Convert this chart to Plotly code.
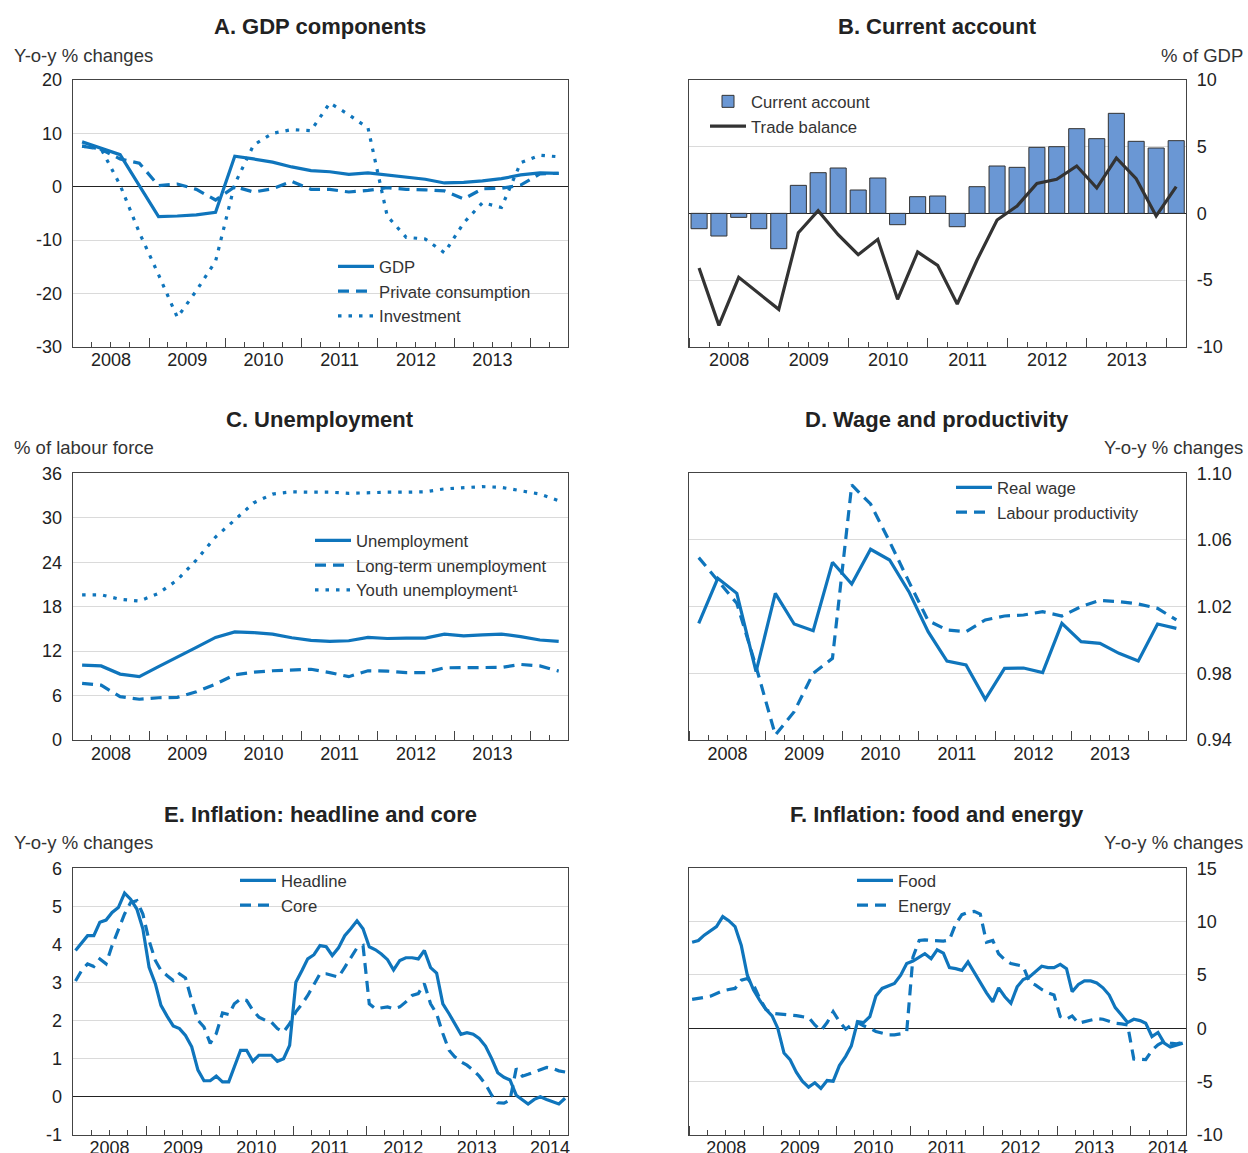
import pandas as pd
import plotly.graph_objects as go

W, H = 1248, 1153
BLUE = "#0f75bc"
BAR = "#6a97d4"
DARK = "#333333"
FONT = "Liberation Sans, Arial, sans-serif"

# ---- data ----
# A. GDP components, quarterly 2008Q1-2014Q2
gdp = [8.4, 7.2, 6.0, 0.2, -5.6, -5.5, -5.3, -4.8, 5.7, 5.2, 4.6, 3.7, 3.0,
       2.8, 2.3, 2.6, 2.2, 1.8, 1.4, 0.7, 0.8, 1.1, 1.5, 2.2, 2.6, 2.5]
priv_cons = [7.6, 7.0, 5.2, 4.4, 0.2, 0.5, -0.5, -2.5, 0.0, -1.0, -0.4, 1.0, -0.5,
             -0.5, -1.0, -0.7, -0.2, -0.5, -0.6, -0.8, -2.3, -0.4, -0.3, 0.3, 2.4, 2.5]
investment = [7.6, 7.1, 0.3, -8.6, -16.5, -24.5, -19.5, -14.0, 0.5, 7.8, 10.0, 10.7, 10.5,
              15.7, 13.5, 11.0, -5.5, -9.5, -9.8, -12.4, -6.8, -3.0, -3.9, 4.5, 5.9, 5.6]

# B. Current account, quarterly 2008Q1-2014Q1
current_account = [-1.15, -1.7, -0.3, -1.15, -2.65, 2.1, 3.05, 3.4, 1.75, 2.65, -0.85, 1.25, 1.3,
                   -1.0, 2.0, 3.55, 3.45, 4.95, 5.0, 6.35, 5.6, 7.5, 5.4, 4.9, 5.45]
trade_balance = [-4.1, -8.4, -4.8, -6.0, -7.2, -1.45, 0.2, -1.6, -3.1, -1.95, -6.45, -2.9, -3.9,
                 -6.8, -3.5, -0.5, 0.55, 2.25, 2.55, 3.55, 1.9, 4.15, 2.6, -0.2, 2.0]

# C. Unemployment, quarterly 2008Q1-2014Q2
unemployment = [10.1, 10.0, 8.9, 8.55, 9.9, 11.25, 12.5, 13.85, 14.6, 14.5, 14.3, 13.8, 13.45,
                13.3, 13.4, 13.85, 13.7, 13.75, 13.75, 14.3, 14.05, 14.2, 14.3, 13.95, 13.5, 13.3]
long_term = [7.65, 7.4, 5.85, 5.5, 5.7, 5.75, 6.5, 7.55, 8.8, 9.15, 9.35, 9.45, 9.55,
             9.1, 8.55, 9.35, 9.3, 9.1, 9.1, 9.75, 9.75, 9.75, 9.8, 10.2, 10.0, 9.3]
youth = [19.6, 19.6, 19.0, 18.75, 19.8, 21.6, 24.3, 27.4, 29.7, 32.0, 33.2, 33.5, 33.45,
         33.45, 33.3, 33.4, 33.45, 33.45, 33.5, 33.9, 34.0, 34.2, 34.1, 33.65, 33.2, 32.3]

# D. Wage and productivity, quarterly 2008Q1-2014Q2
real_wage = [1.010, 1.037, 1.028, 0.981, 1.028, 1.0096, 1.0056, 1.0466, 1.0336, 1.0544, 1.048,
             1.029, 1.005, 0.9874, 0.985, 0.9644, 0.983, 0.9832, 0.9804, 1.010, 0.999, 0.998,
             0.992, 0.9874, 1.0096, 1.007]
labour_prod = [1.0494, 1.036, 1.022, 0.984, 0.943, 0.957, 0.980, 0.989, 1.093, 1.0816, 1.059,
               1.035, 1.0116, 1.006, 1.005, 1.012, 1.0144, 1.015, 1.017, 1.0144, 1.020, 1.0238,
               1.023, 1.0216, 1.019, 1.012]

# E. Inflation: headline and core, monthly Jan 2008-Sep 2014
headline = [3.84, 4.03, 4.23, 4.23, 4.58, 4.64, 4.84, 4.97, 5.35, 5.19, 4.93, 4.41,
            3.40, 2.97, 2.40, 2.11, 1.86, 1.79, 1.61, 1.31, 0.70, 0.42, 0.42, 0.54,
            0.39, 0.39, 0.79, 1.22, 1.22, 0.93, 1.09, 1.09, 1.09, 0.93, 1.00, 1.35,
            3.01, 3.32, 3.62, 3.73, 3.97, 3.94, 3.71, 3.91, 4.23, 4.41, 4.62, 4.41,
            3.94, 3.86, 3.75, 3.60, 3.33, 3.58, 3.65, 3.65, 3.62, 3.84, 3.39, 3.25,
            2.44, 2.18, 1.92, 1.64, 1.68, 1.64, 1.53, 1.33, 1.00, 0.63, 0.51, 0.44,
            0.04, -0.07, -0.19, -0.07, 0.0, -0.07, -0.13, -0.19, -0.04]
core = [3.04, 3.32, 3.49, 3.42, 3.62, 3.49, 3.97, 4.36, 4.80, 5.10, 5.15, 4.80,
        4.10, 3.58, 3.32, 3.18, 3.05, 3.23, 3.12, 2.53, 2.01, 1.83, 1.40, 1.66,
        2.20, 2.16, 2.44, 2.57, 2.53, 2.27, 2.09, 2.01, 1.96, 1.79, 1.70, 1.92,
        2.23, 2.44, 2.66, 2.95, 3.23, 3.23, 3.18, 3.14, 3.40, 3.66, 3.91, 3.97,
        2.44, 2.31, 2.34, 2.36, 2.31, 2.36, 2.49, 2.66, 2.71, 2.97, 2.44, 2.18,
        1.66, 1.22, 1.05, 0.92, 0.83, 0.70, 0.54, 0.33, 0.04, -0.16, -0.17, -0.09,
        0.74, 0.54, 0.59, 0.65, 0.70, 0.77, 0.74, 0.68, 0.65]

# F. Inflation: food and energy, monthly Jan 2008-Sep 2014
food = [8.07, 8.23, 8.73, 9.16, 9.53, 10.47, 10.09, 9.53, 7.76, 4.97, 3.57, 2.64,
        1.77, 1.15, 0.0, -2.33, -2.95, -4.13, -4.97, -5.53, -5.12, -5.65, -4.91, -4.97,
        -3.51, -2.64, -1.65, 0.62, 0.53, 1.09, 3.01, 3.73, 3.94, 4.19, 4.97, 6.06,
        6.30, 6.68, 6.99, 6.52, 7.36, 7.05, 5.68, 5.59, 5.43, 6.21, 5.19, 4.25,
        3.32, 2.48, 3.79, 2.95, 2.33, 3.88, 4.57, 4.81, 5.28, 5.81, 5.68, 5.68,
        5.99, 5.59, 3.42, 4.10, 4.44, 4.44, 4.25, 3.79, 3.11, 1.93, 1.24, 0.53,
        0.84, 0.71, 0.47, -0.78, -0.40, -1.40, -1.77, -1.58, -1.40]
energy = [2.70, 2.76, 2.89, 3.01, 3.26, 3.51, 3.63, 3.73, 4.50, 4.66, 4.04, 2.80,
          1.77, 1.40, 1.34, 1.30, 1.24, 1.18, 1.09, 1.02, 0.31, -0.22, 0.53, 1.55,
          0.62, -0.09, 0.31, 0.53, 0.22, 0.0, -0.31, -0.47, -0.62, -0.62, -0.53, -0.31,
          6.68, 8.23, 8.29, 8.23, 8.17, 8.17, 8.29, 9.78, 10.65, 10.87, 10.96, 10.71,
          8.07, 8.23, 6.99, 6.43, 6.06, 5.90, 5.81, 4.35, 4.04, 3.63, 3.32, 3.11,
          1.09, 0.84, 1.15, 0.47, 0.62, 0.78, 0.90, 0.84, 0.62, 0.47, 0.40, 0.31,
          -2.89, -2.89, -2.95, -2.08, -1.55, -1.24, -1.40, -1.46, -1.34]

# y tick values per panel
y_ticks = [[-30, -20, -10, 0, 10, 20], [-10, -5, 0, 5, 10], [0, 6, 12, 18, 24, 30, 36],
           [0.94, 0.98, 1.02, 1.06, 1.10], [-1, 0, 1, 2, 3, 4, 5, 6], [-10, -5, 0, 5, 10, 15]]

# x positions: middle of each quarter / month
q_start = pd.date_range("2008-01-01", periods=26, freq="QS")
q_mid = q_start + pd.Timedelta(days=45)
m_start = pd.date_range("2008-01-01", periods=81, freq="MS")
m_mid = m_start + pd.Timedelta(days=14)


def px(x):
    return x / W


def py(y):
    return 1 - y / H


fig = go.Figure()

DASH = "11px,7px"
DOT = "3.5px,7px"


def line(x, y, name, ax, leg, dash=None, color=BLUE, width=3.2):
    fig.add_trace(go.Scatter(
        x=x, y=y, name=name, mode="lines", xaxis="x" + ax, yaxis="y" + ax,
        legend=leg, line=dict(color=color, width=width, dash=dash)))


line(q_mid, gdp, "GDP", "", "legend")
line(q_mid, priv_cons, "Private consumption", "", "legend", DASH)
line(q_mid, investment, "Investment", "", "legend", DOT)

fig.add_trace(go.Bar(x=q_mid[:25], y=current_account, name="Current account",
                     xaxis="x2", yaxis="y2", legend="legend2",
                     marker=dict(color=BAR, line=dict(color=DARK, width=1))))
line(q_mid[:25], trade_balance, "Trade balance", "2", "legend2", color=DARK, width=3.2)

line(q_mid, unemployment, "Unemployment", "3", "legend3")
line(q_mid, long_term, "Long-term unemployment", "3", "legend3", DASH)
line(q_mid, youth, "Youth unemployment¹", "3", "legend3", DOT)

line(q_mid, real_wage, "Real wage", "4", "legend4")
line(q_mid, labour_prod, "Labour productivity", "4", "legend4", DASH)

line(m_mid, headline, "Headline", "5", "legend5")
line(m_mid, core, "Core", "5", "legend5", DASH)

line(m_mid, food, "Food", "6", "legend6")
line(m_mid, energy, "Energy", "6", "legend6", DASH)

# ---- axes ----
col_x = [[px(72.7), px(568.3)], [px(689.3), px(1186)]]
row_y = [[py(346.7), py(80)], [py(740), py(473.3)], [py(1134.8), py(868.3)]]
x_end = ["2014-07-01", "2014-04-01", "2014-07-01", "2014-07-01", "2014-10-01", "2014-10-01"]

tickfont = dict(family=FONT, size=18, color="#222")
for i in range(6):
    sfx = "" if i == 0 else str(i + 1)
    r, c = divmod(i, 2)
    tv = y_ticks[i]
    tt = [f"{v:.2f}" if i == 3 else f"{v:g}" for v in tv]
    fig.update_layout({
        "xaxis" + sfx: dict(
            domain=col_x[c], anchor="y" + sfx, type="date", automargin=False,
            range=["2008-01-01", x_end[i]], dtick="M12", tick0="2008-01-01",
            ticklabelmode="period", tickformat="%Y", ticks="inside", ticklen=9,
            tickcolor="#444", tickwidth=1, showline=True, mirror=True,
            linecolor="#444", linewidth=1.3, showgrid=False, zeroline=False,
            tickfont=tickfont, ticklabelstandoff=-4 if r == 2 else -3, fixedrange=True,
            minor=dict(dtick="M3", tick0="2008-01-01", ticks="inside", ticklen=5,
                       tickcolor="#444", tickwidth=1, showgrid=False),
        ),
        "yaxis" + sfx: dict(
            domain=row_y[r], anchor="x" + sfx, range=[tv[0], tv[-1]], automargin=False,
            tickmode="array", tickvals=tv, ticktext=tt,
            side="left" if c == 0 else "right",
            showgrid=True, gridcolor="#dadada", gridwidth=1,
            zeroline=i in (0, 1, 4, 5), zerolinecolor="#222", zerolinewidth=1,
            showline=True, mirror=True, linecolor="#444", linewidth=1.3,
            ticks="", tickfont=tickfont, ticklabelstandoff=6, fixedrange=True,
        ),
    })

# ---- legends ----
legfont = dict(family=FONT, size=16.7, color="#333")
leg_pos = [(333, 249), (705, 84), (310, 523), (951, 470), (235, 863), (852, 863)]
for i, (lx, ly) in enumerate(leg_pos):
    key = "legend" if i == 0 else "legend" + str(i + 1)
    fig.update_layout({key: dict(x=px(lx), y=py(ly), xanchor="left", yanchor="top",
                                 bgcolor="rgba(0,0,0,0)", font=legfont,
                                 tracegroupgap=0, itemwidth=36)})

# ---- titles ----
titles = [("A. GDP components", 320, 26), ("B. Current account", 937, 26),
          ("C. Unemployment", 320, 420), ("D. Wage and productivity", 937, 420),
          ("E. Inflation: headline and core", 320, 814),
          ("F. Inflation: food and energy", 937, 814)]
for t, x, y in titles:
    fig.add_annotation(text="<b>" + t + "</b>", x=px(x), y=py(y), xref="paper", yref="paper",
                       showarrow=False, xanchor="center", yanchor="middle",
                       font=dict(family=FONT, size=22, color="#222"))

units = [("Y-o-y % changes", 12, 55, "left"), ("% of GDP", 1245, 55, "right"),
         ("% of labour force", 12, 448, "left"), ("Y-o-y % changes", 1245, 448, "right"),
         ("Y-o-y % changes", 12, 842, "left"), ("Y-o-y % changes", 1245, 842, "right")]
for t, x, y, a in units:
    fig.add_annotation(text=t, x=px(x), y=py(y), xref="paper", yref="paper",
                       showarrow=False, xanchor=a, yanchor="middle",
                       font=dict(family=FONT, size=18.5, color="#333"))

fig.update_layout(width=W, height=H, margin=dict(l=0, r=0, t=0, b=0, autoexpand=False),
                  paper_bgcolor="white", plot_bgcolor="white", bargap=0.18,
                  font=dict(family=FONT, color="#222"), showlegend=True)

# drop the page's default body margin so the 1248x1153 figure fills the window exactly
fig.write_html("out.html", config={"displayModeBar": False},
               post_script="document.body.style.margin='0';document.body.style.overflow='hidden';")
